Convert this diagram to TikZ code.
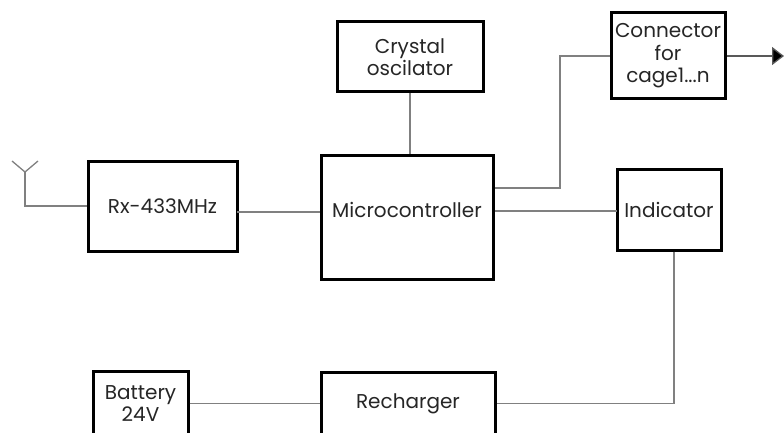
\documentclass[tikz,border=0pt]{standalone}
\usepackage{fontspec}
\setmainfont{Poppins}
\usetikzlibrary{arrows.meta}
\begin{document}
\begin{tikzpicture}[x=1pt,y=-1pt,
  blk/.style={draw=black,line width=3pt,fill=white,inner sep=0pt,align=center,
    font=\fontsize{20}{22.5}\selectfont,text=black!85},
  wire/.style={draw=black!50,line width=1.3pt}]
\useasboundingbox (0,0) rectangle (784,433);
\clip (0,0) rectangle (784,433);
% blocks
\node[blk,minimum width=149,minimum height=90] (rx) at (162.5,206) {Rx-433MHz};
\node[blk,minimum width=172,minimum height=124,text depth=14pt] (mc) at (407,217) {Microcontroller};
\node[blk,minimum width=146,minimum height=70] (xo) at (410,57) {Crystal\\oscilator};
\node[blk,minimum width=114,minimum height=86] (conn) at (668,56) {Connector\\for\\cage1...n};
\node[blk,minimum width=104,minimum height=81] (ind) at (669,209.5) {Indicator};
\node[blk,minimum width=95,minimum height=64] (bat) at (140.5,403.5) {Battery\\24V};
\node[blk,minimum width=174,minimum height=62] (rec) at (408,403.5) {Recharger};
% antenna
\coordinate (antJ) at (25,172);
\coordinate (antL) at (12,161);
\coordinate (antR) at (38,161);
\coordinate (antB) at (25,206);
\draw[wire] (antL) -- (antJ) -- (antR);
\draw[wire] (antJ) -- (antB) -- (antB -| rx.west);
% connectors
\coordinate (rxo) at (237,212);
\draw[wire] (rxo) -- (rxo -| mc.west);
\draw[wire] (xo.south) -- (xo.south |- mc.north);
\coordinate (bend) at (560,188);
\draw[wire] (conn.west) -| (bend) -- (bend -| mc.east);
\coordinate (indi) at (617,211);
\draw[wire] (indi) -- (indi -| mc.east);
\coordinate (out) at (784,56);
\draw[draw=black!65,line width=1.3pt,-{Triangle[length=12pt,width=18pt,fill=black]}] (conn.east) -- (out);
\draw[wire] ([xshift=5pt]ind.south) |- (rec.east);
\draw[wire] (bat.east) -- (rec.west);
\end{tikzpicture}
\end{document}
